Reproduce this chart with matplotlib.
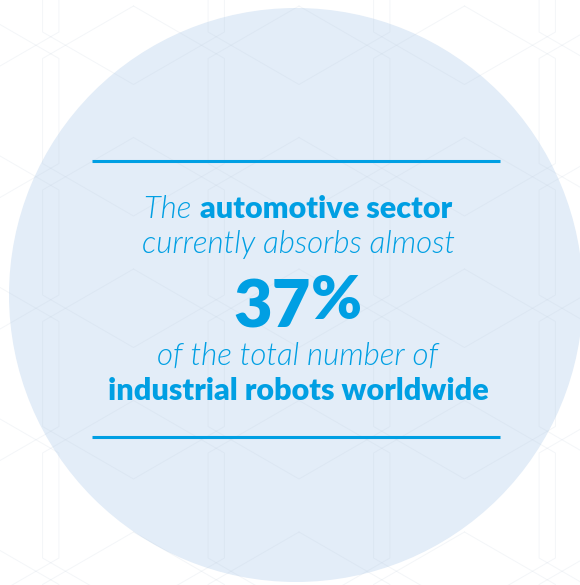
import numpy as np
import matplotlib
matplotlib.use('Agg')
import matplotlib.pyplot as plt
import matplotlib.patches as patches

BLUE = '#009fe3'
CIRCLE = '#e3edf8'
HEX = '#b9c7d6'
LIGHT_FONT = ['Lato', 'DejaVu Sans']
BOLD_FONT = ['Lato', 'DejaVu Sans']

# text content
share_value = 37
line1 = [('The ', 'light'), ('automotive sector', 'bold')]
line2 = [('currently absorbs almost', 'light')]
line4 = [('of the total number of', 'light')]
line5 = [('industrial robots worldwide', 'bold')]

W, H = 580, 585
fig = plt.figure(figsize=(W / 100, H / 100), dpi=100, facecolor='white')
ax = fig.add_axes([0, 0, 1, 1])
ax.set_xlim(0, W)
ax.set_ylim(H, 0)
ax.axis('off')

# background circle
ax.add_patch(patches.Circle((296, 295), 287, facecolor=CIRCLE, edgecolor='none', zorder=1))

# faint overlapping hexagon pattern
R = 105
ang = np.deg2rad(np.arange(90, 451, 60))
for cx in np.arange(-32, 700, 165.5):
    for cy in np.arange(-20.5, 700, 131.5):
        ax.plot(cx + R * np.cos(ang), cy - R * np.sin(ang), color=HEX,
                lw=0.7, alpha=0.16, zorder=2)

# rules above and below
for y in (160.5, 437):
    ax.plot([92, 500], [y, y], color=BLUE, lw=2.2, solid_capstyle='butt', zorder=3)

renderer = fig.canvas.get_renderer()


def style_kw(kind, size):
    if kind == 'light':
        return dict(family=LIGHT_FONT, fontstyle='italic', fontweight=300, fontsize=size)
    return dict(family=BOLD_FONT, fontweight='heavy', fontsize=size)


def centered_line(pieces, y, size, xc=298):
    texts = []
    for s, kind in pieces:
        sz = size[kind] if isinstance(size, dict) else size
        t = ax.text(0, y, s, color=BLUE, va='baseline', ha='left', zorder=4, **style_kw(kind, sz))
        texts.append(t)
    widths = [t.get_window_extent(renderer).width for t in texts]
    x = xc - sum(widths) / 2
    for t, w in zip(texts, widths):
        t.set_x(x)
        x += w


sizes = {'light': 22.5, 'bold': 22}
centered_line(line1, 218, sizes)
centered_line(line2, 253, sizes)
centered_line(line4, 365, sizes)
centered_line(line5, 400, sizes)

# big number
num = ax.text(0, 327, f'{share_value}', color=BLUE, va='baseline', ha='left', zorder=4,
              family=BOLD_FONT, fontweight='heavy', fontsize=48)
pct = ax.text(0, 319, '%', color=BLUE, va='baseline', ha='left', zorder=4,
              family=BOLD_FONT, fontweight='heavy', fontsize=44)
wn = num.get_window_extent(renderer).width
wp = pct.get_window_extent(renderer).width
x0 = 298 - (wn + wp) / 2
num.set_x(x0)
pct.set_x(x0 + wn)

fig.savefig('out.png', dpi=100, facecolor='white')
plt.close(fig)
